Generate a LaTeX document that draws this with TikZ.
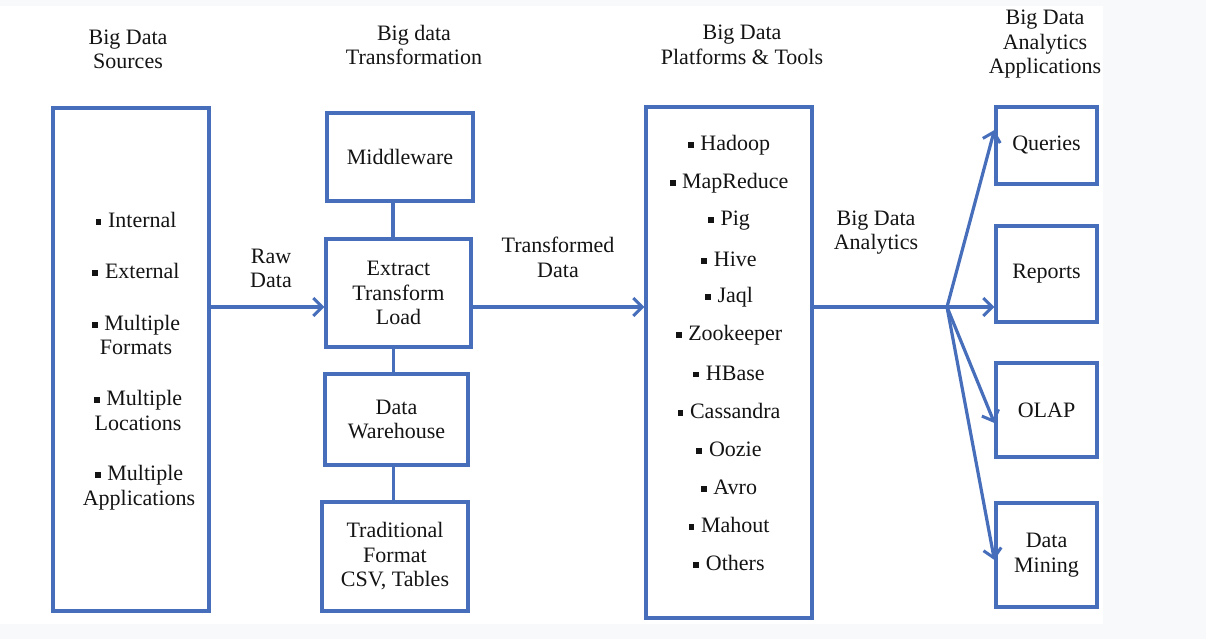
\documentclass[tikz,border=0pt]{standalone}
\usepackage{fontspec}
\setmainfont{Liberation Serif}
\usetikzlibrary{arrows.meta}
\definecolor{lineblue}{RGB}{70,110,186}
\definecolor{txt}{RGB}{20,20,20}
\definecolor{bgray}{RGB}{248,249,250}
\newcommand{\sqb}{\raisebox{0.26ex}{\rule{0.27em}{0.27em}}\hspace{0.3em}}
\begin{document}
\begin{tikzpicture}[x=1pt,y=-1pt,
  every node/.style={font=\fontsize{22}{24.5}\selectfont, text=txt, align=center, inner sep=0pt},
  box/.style={draw=lineblue, line width=3.2pt, fill=white},
  conn/.style={draw=lineblue, line width=3.2pt},
  arr/.style={conn, -{Straight Barb[length=9pt,width=18pt,line width=3pt]}}]
\useasboundingbox (0,0) rectangle (1206,639);
\fill[bgray] (0,0) rectangle (1206,639);
\fill[white] (0,6) rectangle (1103,624);
% headers
\node (h1) at (128,49.5) {Big Data\\Sources};
\node (h2) at (414,45) {Big data\\Transformation};
\node (h3) at (742,45) {Big Data\\Platforms \& Tools};
\node (h4) at (1045,44.5) {Big Data\\Analytics\\Applications};
% boxes
\node[box, minimum width=156pt, minimum height=503pt] (src) at (131,359.5) {};
\node[box, minimum width=146pt, minimum height=88pt] (mw) at (400,157) {Middleware};
\node[box, minimum width=145pt, minimum height=108pt] (etl) at (398.5,293) {Extract\\Transform\\Load};
\node[box, minimum width=143pt, minimum height=91pt] (dw) at (396.5,419.5) {Data\\Warehouse};
\node[box, minimum width=146pt, minimum height=109pt] (trad) at (395,556.5) {Traditional\\Format\\CSV, Tables};
\node[box, minimum width=166pt, minimum height=511pt] (plat) at (729,362.5) {};
\node[box, minimum width=101pt, minimum height=77pt] (q) at (1046.5,145.5) {Queries};
\node[box, minimum width=101pt, minimum height=96pt] (rep) at (1046.5,274) {Reports};
\node[box, minimum width=101pt, minimum height=94pt] (olap) at (1046.5,410) {OLAP};
\node[box, minimum width=101pt, minimum height=104pt] (dm) at (1046.5,555) {Data\\Mining};
% source items
\node (s1) at (136,220) {\sqb Internal};
\node (s2) at (136,271) {\sqb External};
\node (s3) at (136,335) {\sqb Multiple\\Formats};
\node (s4) at (138,410.5) {\sqb Multiple\\Locations};
\node (s5) at (139,487.5) {\sqb Multiple\\Applications};
% platform items
\foreach \t [count=\i from 0] in {Hadoop,MapReduce,Pig,Hive,Jaql,Zookeeper,HBase,Cassandra,Oozie,Avro,Mahout,Others}
  \node (p\i) at (729,{145+38*\i}) {\sqb \t};
% labels
\node (lraw) at (271,268.5) {Raw\\Data};
\node (ltr) at (558,257.5) {Transformed\\Data};
\node (lan) at (876,232.5) {Big Data\\Analytics};
% connectors
\coordinate (mainy) at (0,307);
\coordinate (br) at (947,307);
\draw[conn] ([xshift=-7pt]mw.south) -- ([xshift=-7pt]mw.south |- etl.north);
\draw[conn] ([xshift=-5pt]etl.south) -- ([xshift=-5pt]etl.south |- dw.north);
\draw[conn] ([xshift=-3pt]dw.south) -- ([xshift=-3pt]dw.south |- trad.north);
\draw[arr] (src.east |- mainy) -- (etl.west |- mainy);
\draw[arr] (etl.east |- mainy) -- (plat.west |- mainy);
\draw[conn] (plat.east |- mainy) -- (br);
\coordinate (tq) at (996,130);
\coordinate (to) at (997,423);
\coordinate (td) at (996,560);
\draw[arr] (br) -- (q.west |- tq);
\draw[arr] (br) -- (rep.west |- br);
\draw[arr] (br) -- (olap.west |- to);
\draw[arr] (br) -- (dm.west |- td);
\end{tikzpicture}
\end{document}
